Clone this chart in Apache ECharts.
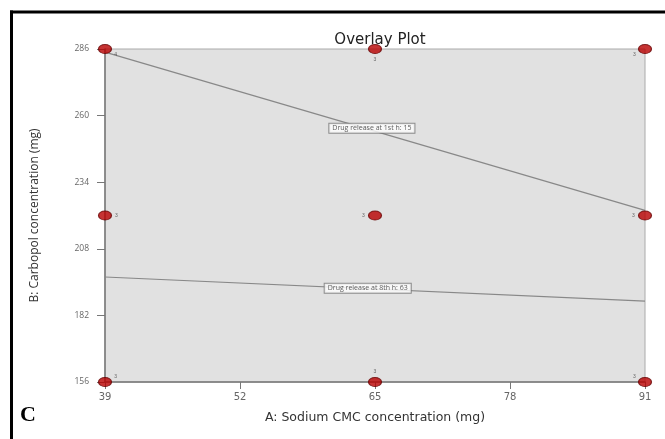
<!DOCTYPE html>
<html><head><meta charset="utf-8">
<script src="https://cdn.jsdelivr.net/npm/echarts@6/dist/echarts.min.js"></script>
<style>html,body{margin:0;padding:0;background:#fff;}#c{width:665px;height:439px;}</style>
</head><body><div id="c"></div>
<script>
const xTicks = [39, 52, 65, 78, 91];
const yTicks = [156, 182, 208, 234, 260, 286];
const designPoints = [[39,286],[65,286],[91,286],[39,221],[65,221],[91,221],[39,156],[65,156],[91,156]];
const replicates = ['4','3','3','3','3','3','3','3','3'];
const line1 = [[39,284.8],[91,223]];
const line2 = [[39,197],[91,187.6]];
const line1Label = [64.7,255.1,'Drug release at 1st h: 15'];
const line2Label = [64.3,192.6,'Drug release at 8th h: 63'];

const chart = echarts.init(document.getElementById('c'));
const labelPos = ['insideBottomRight','bottom','insideBottomLeft','right','left','left','insideTopRight','top','insideTopLeft'];
const labelOff = [[8,6],[0,0],[-8,6],[0,0],[0,0],[0,0],[8,-6],[0,0],[-8,-6]];
chart.setOption({
  animation:false,
  title:{text:'Overlay Plot',left:375,top:28,textAlign:'center',textStyle:{fontFamily:'DejaVu Sans',fontSize:15,fontWeight:'normal',color:'#222'}},
  grid:{left:105,right:20,top:49,bottom:57,show:true,backgroundColor:'#e1e1e1',borderColor:'#aaa',borderWidth:1},
  xAxis:{type:'value',min:39,max:91,interval:13,
    name:'A: Sodium CMC concentration (mg)',nameLocation:'middle',nameGap:29,
    nameTextStyle:{fontFamily:'DejaVu Sans',fontSize:12.5,color:'#333'},
    axisLine:{lineStyle:{color:'#777',width:1.5}},axisTick:{length:7,lineStyle:{color:'#777'}},
    axisLabel:{fontFamily:'DejaVu Sans',fontSize:10,color:'#666',margin:10,formatter:v=>xTicks.includes(v)?String(v):''},
    splitLine:{show:false}},
  yAxis:{type:'value',min:156,max:286,interval:26,
    name:'B: Carbopol concentration (mg)',nameLocation:'middle',nameGap:64,
    nameTextStyle:{fontFamily:'Open Sans',fontSize:12,color:'#333'},
    axisLine:{show:true,lineStyle:{color:'#777',width:1.5}},axisTick:{show:true,length:8,lineStyle:{color:'#777'}},
    axisLabel:{fontFamily:'Open Sans',fontSize:8.5,color:'#666',margin:16,formatter:v=>yTicks.includes(v)?String(v):''},
    splitLine:{show:false}},
  graphic:[
    {type:'rect',shape:{x:10,y:10.5,width:660,height:3},style:{fill:'#000'},z:100},
    {type:'rect',shape:{x:10,y:10.5,width:3,height:440},style:{fill:'#000'},z:100},
    {type:'text',left:20,top:404,style:{text:'C',fontFamily:'Liberation Serif',fontWeight:'bold',fontSize:22,fill:'#000'},z:100}
  ],
  series:[
    {type:'line',data:line1,symbol:'none',lineStyle:{color:'#888',width:1.2},z:2},
    {type:'line',data:line2,symbol:'none',lineStyle:{color:'#888',width:1.2},z:2},
    {type:'scatter',data:[line1Label,line2Label],symbolSize:0,z:4,
      label:{show:true,position:'inside',formatter:p=>p.data[2],fontFamily:'Open Sans',fontSize:7,color:'#333',
        backgroundColor:'#fff',borderColor:'#777',borderWidth:1,padding:[1,3]}},
    {type:'scatter',data:designPoints.map((d,i)=>({value:d,label:{position:labelPos[i],offset:labelOff[i]}})),symbol:'circle',symbolSize:[13,9],z:5,clip:false,
      itemStyle:{color:'#b80000',borderColor:'#600',borderWidth:1},
      label:{show:true,formatter:p=>replicates[p.dataIndex],fontSize:5,color:'#444',distance:3}}
  ]
});
</script></body></html>
